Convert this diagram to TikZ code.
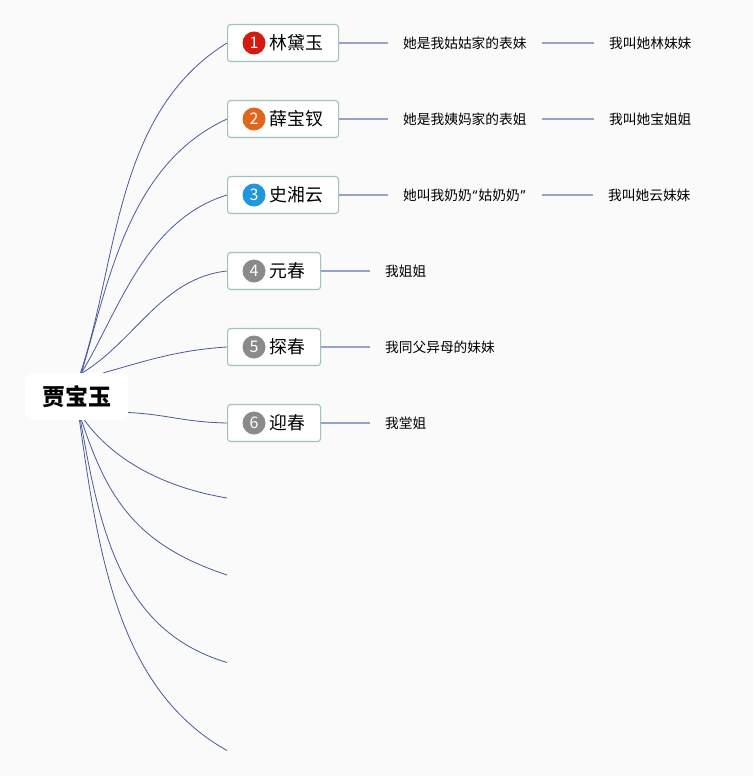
\documentclass[tikz,border=0pt]{standalone}
\usepackage{fontspec}
\setmainfont{Noto Sans CJK SC}
\newfontfamily\latinq{Noto Sans}
\definecolor{bgc}{HTML}{FAFAFB}
\definecolor{boxc}{HTML}{9CC5B5}
\definecolor{linec}{HTML}{98A2CA}
\definecolor{curvec}{HTML}{4A5A9A}
\definecolor{red1}{HTML}{D31B10}
\definecolor{org2}{HTML}{E0661B}
\definecolor{blu3}{HTML}{1E97DC}
\definecolor{gry}{HTML}{8A8A8A}
\begin{document}
\begin{tikzpicture}[x=1pt,y=-1pt,
  box/.style={draw=boxc, line width=1.1pt, fill=white, rounded corners=3pt, minimum height=37pt, inner sep=0pt, anchor=west},
  badge/.style={circle, fill=#1, text=white, minimum size=23pt, inner sep=0pt, font=\fontsize{16}{16}\selectfont},
  lab/.style={anchor=west, inner sep=0pt, font=\fontsize{17.8}{17.8}\selectfont},
  desc/.style={anchor=west, inner xsep=15pt, inner ysep=2pt, font=\fontsize{13.7}{13.7}\selectfont},
  link/.style={draw=linec, line width=1.4pt},
  branch/.style={draw=curvec, line width=0.8pt},
  rootbox/.style={fill=white, rounded corners=8pt, minimum width=103pt, minimum height=47pt, inner sep=0pt, font=\fontsize{23}{23}\selectfont\bfseries}
]
\fill[bgc] (0,0) rectangle (753,776);
\useasboundingbox (0,0) rectangle (753,776);

% root
\node[rootbox] (root) at (76.5,396.5) {贾宝玉};

% first-level boxes
\node[box, minimum width=111pt] (b1) at (227,43) {};
\node[box, minimum width=111pt] (b2) at (227,119) {};
\node[box, minimum width=111pt] (b3) at (227,195) {};
\node[box, minimum width=93pt] (b4) at (227,271) {};
\node[box, minimum width=93pt] (b5) at (227,347) {};
\node[box, minimum width=93pt] (b6) at (227,423) {};

\node[badge=red1] (n1) at (254,43) {1};
\node[badge=org2] (n2) at (254,119) {2};
\node[badge=blu3] (n3) at (254,195) {3};
\node[badge=gry] (n4) at (254,271) {4};
\node[badge=gry] (n5) at (254,347) {5};
\node[badge=gry] (n6) at (254,423) {6};

\node[lab] (t1) at (269.5,43) {林黛玉};
\node[lab] (t2) at (269.5,119) {薛宝钗};
\node[lab] (t3) at (269.5,195) {史湘云};
\node[lab] (t4) at (269.5,271) {元春};
\node[lab] (t5) at (269.5,347) {探春};
\node[lab] (t6) at (269.5,423) {迎春};

% descriptions
\node[desc] (d1) at (388,43) {她是我姑姑家的表妹};
\node[desc] (e1) at (594,43) {我叫她林妹妹};
\node[desc] (d2) at (388,119) {她是我姨妈家的表姐};
\node[desc] (e2) at (594,119) {我叫她宝姐姐};
\node[desc] (d3) at (388,195) {她叫我奶奶\kern1pt{\latinq “}\kern1pt姑奶奶\kern1pt{\latinq ”}\kern1pt};
\node[desc] (e3) at (593,195) {我叫她云妹妹};
\node[desc] (d4) at (370,271) {我姐姐};
\node[desc] (d5) at (370,347) {我同父异母的妹妹};
\node[desc] (d6) at (370,423) {我堂姐};

\draw[link] (b1.east) -- (d1.west);
\draw[link] (d1.east) -- (e1.west);
\draw[link] (b2.east) -- (d2.west);
\draw[link] (d2.east) -- (e2.west);
\draw[link] (b3.east) -- (d3.west);
\draw[link] (d3.east) -- (e3.west);
\draw[link] (b4.east) -- (d4.west);
\draw[link] (b5.east) -- (d5.west);
\draw[link] (b6.east) -- (d6.west);

% free ends
\coordinate (c7) at (227,498);
\coordinate (c8) at (227,575);
\coordinate (c9) at (227,662.5);
\coordinate (c10) at (227,750.5);

% branches
\draw[branch] ([xshift=4pt]root.north) .. controls +(38,-113) and +(-113,70) .. (b1.west);
\draw[branch] ([xshift=5pt]root.north) .. controls +(27.5,-93) and +(-98,45) .. (b2.west);
\draw[branch] ([xshift=5pt]root.north) .. controls +(36.5,-60) and +(-82,25) .. (b3.west);
\draw[branch] ([xshift=6pt]root.north) .. controls +(53.5,-33) and +(-65,7) .. (b4.west);
\draw[branch] ([xshift=27pt]root.north) .. controls +(39.5,-11) and +(-50,3) .. (b5.west);
\draw[branch] ([yshift=-16pt]root.east) .. controls +(40,2) and +(-45,-1) .. (b6.west);
\draw[branch] ([xshift=8pt]root.south) .. controls +(30.5,42) and +(-60,-10) .. (c7);
\draw[branch] ([xshift=5pt]root.south) .. controls +(26.5,80) and +(-90,-30) .. (c8);
\draw[branch] ([xshift=4pt]root.south) .. controls +(19.5,110) and +(-107,-32) .. (c9);
\draw[branch] ([xshift=3pt]root.south) .. controls +(19.5,140) and +(-107,-60) .. (c10);
\end{tikzpicture}
\end{document}
